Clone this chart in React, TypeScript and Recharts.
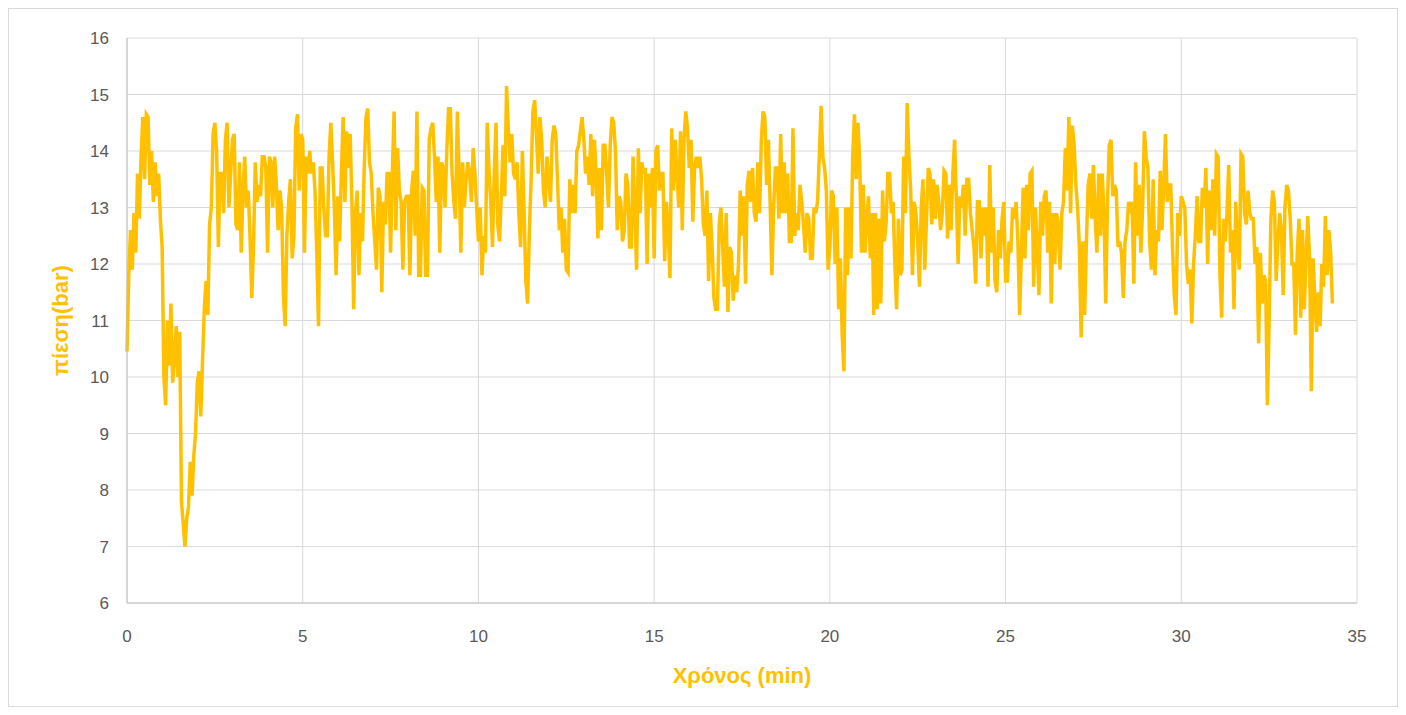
import {
  LineChart,
  Line,
  XAxis,
  YAxis,
  CartesianGrid,
  Label,
} from "recharts";

// pressure readings (bar), one every 0.05 min, in 5-minute blocks
const STEP_MIN = 0.05;

const p00to05 = [
  10.45, 11.8, 12.6, 11.9, 12.9, 12.2, 13.6, 12.8, 13.9, 14.6,
  13.5, 14.65, 14.6, 13.4, 14.0, 13.1, 13.8, 13.2, 13.6, 12.8,
  12.3, 10.0, 9.5, 11.0, 10.2, 11.3, 9.9, 10.3, 10.9, 10.0,
  10.8, 7.8, 7.4, 7.0, 7.5, 7.7, 8.5, 7.9, 8.6, 9.0,
  9.9, 10.1, 9.3, 10.3, 11.2, 11.7, 11.1, 12.7, 13.0, 14.3,
  14.5, 14.0, 12.3, 13.6, 13.6, 12.9, 14.2, 14.5, 13.0, 13.6,
  14.2, 14.3, 12.7, 12.6, 13.8, 12.2, 13.3, 13.9, 13.0, 13.3,
  12.5, 11.4, 12.3, 13.8, 13.1, 13.4, 13.2, 13.9, 13.9, 13.7,
  12.2, 13.9, 13.8, 13.0, 13.9, 13.4, 12.6, 13.3, 13.0, 11.45,
  10.9, 12.5, 13.1, 13.5, 12.1, 12.5, 14.4, 14.65, 13.3, 14.3,
];

const p05to10 = [
  14.2, 12.2, 13.9, 13.6, 14.0, 13.6, 13.8, 13.3, 12.2, 10.9,
  13.7, 13.7, 13.0, 12.5, 12.5, 13.9, 14.5, 13.8, 13.0, 11.8,
  13.2, 12.4, 13.6, 14.6, 13.1, 14.35, 13.7, 14.3, 13.1, 11.2,
  12.9, 13.3, 11.8, 12.9, 12.4, 13.7, 14.6, 14.75, 13.8, 13.6,
  12.9, 12.4, 11.9, 13.35, 13.2, 11.5, 13.1, 12.7, 13.6, 13.6,
  12.2, 13.6, 14.7, 12.6, 14.05, 13.3, 13.1, 11.9, 13.1, 13.2,
  13.2, 11.8, 13.3, 13.65, 12.5, 14.7, 11.8, 11.8, 13.35, 13.3,
  11.8, 11.8, 14.2, 14.4, 14.5, 13.9, 13.1, 13.9, 12.2, 13.8,
  13.7, 13.0, 14.0, 14.75, 14.75, 13.6, 13.1, 12.8, 14.7, 13.6,
  12.2, 13.8, 13.0, 13.5, 13.8, 13.6, 13.1, 14.05, 13.6, 13.0,
];

const p10to15 = [
  12.4, 13.0, 11.8, 12.5, 12.2, 14.5, 13.7, 13.1, 12.3, 13.6,
  14.5, 12.7, 12.4, 13.2, 14.1, 13.2, 15.15, 14.4, 13.8, 14.3,
  13.6, 13.5, 13.8, 12.9, 12.3, 14.0, 12.9, 11.7, 11.3, 12.6,
  13.5, 14.7, 14.9, 14.3, 13.6, 14.6, 14.2, 13.3, 13.0, 13.9,
  13.5, 13.1, 14.2, 14.45, 14.3, 13.5, 12.6, 13.0, 12.2, 12.8,
  11.9, 11.85, 13.5, 12.9, 13.4, 12.9, 14.0, 14.1, 14.35, 14.6,
  14.2, 13.6, 13.9, 13.4, 14.3, 13.2, 14.2, 13.6, 12.45, 13.7,
  12.6, 14.1, 14.1, 13.6, 13.0, 14.1, 14.6, 14.5, 14.0, 12.6,
  13.2, 13.1, 12.4, 12.6, 13.6, 13.4, 12.3, 12.3, 13.9, 13.0,
  11.9, 14.05, 12.9, 13.8, 13.6, 13.7, 12.0, 13.6, 13.0, 13.7,
];

const p15to20 = [
  12.1, 14.0, 14.1, 13.3, 13.6, 13.6, 12.05, 13.1, 12.6, 11.75,
  14.4, 13.3, 14.2, 13.6, 13.0, 14.35, 12.6, 14.2, 14.7, 14.4,
  13.7, 14.2, 12.75, 13.7, 13.9, 13.7, 13.9, 13.5, 12.7, 12.5,
  13.3, 11.7, 12.9, 12.3, 11.4, 11.2, 11.2, 12.7, 13.0, 12.3,
  11.6, 12.9, 11.15, 12.3, 12.2, 11.35, 11.8, 11.5, 12.0, 13.3,
  12.5, 13.2, 11.65, 13.4, 13.65, 13.1, 13.7, 12.9, 12.75, 13.8,
  12.9, 14.2, 14.7, 14.6, 13.4, 14.2, 13.1, 11.8, 13.0, 13.7,
  13.7, 12.8, 14.3, 12.9, 13.8, 12.9, 13.6, 12.4, 12.4, 14.4,
  12.5, 12.9, 12.6, 13.4, 13.1, 12.7, 12.2, 12.9, 12.8, 12.1,
  12.1, 13.0, 12.9, 13.1, 13.9, 14.8, 13.9, 13.7, 13.3, 11.9,
];

const p20to25 = [
  12.3, 13.3, 13.2, 12.0, 13.0, 11.2, 12.1, 10.75, 10.1, 13.0,
  11.8, 13.0, 12.1, 13.9, 14.65, 13.5, 14.5, 13.8, 12.2, 13.4,
  12.2, 12.8, 13.2, 12.1, 12.9, 11.1, 12.9, 11.2, 12.8, 11.3,
  13.3, 12.4, 12.7, 13.6, 13.6, 12.9, 13.1, 12.0, 11.2, 12.8,
  11.8, 11.9, 13.9, 12.9, 14.85, 13.9, 13.3, 11.8, 13.1, 12.9,
  12.4, 11.6, 13.0, 13.5, 11.9, 12.8, 13.7, 13.6, 12.7, 13.5,
  12.8, 13.4, 13.1, 12.6, 12.9, 13.65, 13.6, 12.45, 13.4, 12.6,
  13.6, 14.2, 13.1, 12.0, 13.2, 13.0, 13.4, 12.5, 13.5, 13.5,
  12.9, 12.6, 12.3, 11.65, 13.1, 13.1, 12.1, 13.0, 12.5, 13.0,
  11.6, 13.75, 12.2, 13.0, 11.7, 11.5, 12.6, 12.1, 12.8, 13.1,
];

const p25to30 = [
  11.7, 11.7, 12.4, 12.2, 13.0, 12.8, 13.1, 12.4, 11.1, 12.2,
  13.35, 12.1, 13.4, 12.6, 13.6, 13.65, 11.6, 13.0, 12.3, 11.45,
  13.1, 12.5, 13.2, 13.3, 12.2, 13.1, 11.3, 12.9, 12.0, 12.9,
  12.7, 11.9, 12.9, 13.1, 14.05, 13.3, 14.6, 12.9, 14.45, 14.1,
  13.4, 13.0, 12.3, 10.7, 12.4, 11.1, 12.4, 13.4, 13.6, 12.8,
  13.75, 12.8, 12.2, 13.6, 12.5, 13.6, 12.9, 11.3, 13.1, 14.1,
  14.2, 13.2, 13.4, 13.3, 12.3, 12.4, 12.2, 11.4, 12.4, 12.6,
  13.1, 12.9, 13.1, 11.65, 13.8, 12.5, 13.4, 12.2, 13.0, 14.35,
  13.9, 13.7, 12.4, 11.9, 13.5, 11.8, 12.6, 12.4, 13.65, 12.6,
  13.4, 14.3, 13.1, 13.4, 13.4, 12.3, 11.45, 11.1, 12.9, 12.5,
];

const p30to35 = [
  13.2, 13.1, 13.0, 12.0, 11.65, 11.9, 10.95, 12.0, 12.5, 13.2,
  12.4, 12.4, 13.35, 13.0, 13.7, 12.0, 13.3, 12.6, 13.5, 12.5,
  13.95, 13.9, 11.8, 11.05, 12.8, 12.4, 12.9, 13.75, 12.2, 12.6,
  11.2, 13.1, 12.3, 11.9, 13.95, 13.9, 12.9, 12.7, 13.3, 12.9,
  12.8, 12.8, 12.0, 12.3, 10.6, 12.2, 11.3, 11.8, 11.7, 9.5,
  11.0, 12.8, 13.3, 13.1, 11.7, 12.4, 12.9, 12.6, 11.45, 13.0,
  13.4, 13.3, 12.8, 12.0, 12.0, 10.75, 12.2, 12.8, 11.05, 12.6,
  11.2, 12.1, 12.85, 12.1, 9.75, 12.1, 11.4, 10.8, 11.5, 10.9,
  12.0, 11.6, 12.85, 11.8, 12.6, 12.2, 11.3,
];

const xTicks = [0, 5, 10, 15, 20, 25, 30, 35];
const yTicks = [6, 7, 8, 9, 10, 11, 12, 13, 14, 15, 16];

const pressure = [
  ...p00to05,
  ...p05to10,
  ...p10to15,
  ...p15to20,
  ...p20to25,
  ...p25to30,
  ...p30to35,
];

const data = pressure.map((p, i) => ({
  t: Number((i * STEP_MIN).toFixed(2)),
  p,
}));

const GOLD = "#FFC000";
const FONT = "'Liberation Sans', Arial, sans-serif";

function YTitle({ viewBox }: any) {
  const cx = viewBox.x + 51;
  const cy = viewBox.y + viewBox.height / 2;
  return (
    <text
      x={cx}
      y={cy}
      transform={`rotate(-90 ${cx} ${cy})`}
      textAnchor="middle"
      dominantBaseline="central"
      fill={GOLD}
      fontFamily={FONT}
      fontWeight="bold"
      fontSize={22}
    >
      πίεση(bar)
    </text>
  );
}

function XTitle({ viewBox }: any) {
  const cx = viewBox.x + viewBox.width / 2;
  const cy = viewBox.y + 72;
  return (
    <text
      x={cx}
      y={cy}
      textAnchor="middle"
      dominantBaseline="central"
      fill={GOLD}
      fontFamily={FONT}
      fontWeight="bold"
      fontSize={22}
    >
      Χρόνος (min)
    </text>
  );
}

export default function App() {
  const tickStyle = { fill: "#595959", fontSize: 17, fontFamily: FONT };

  return (
    <div
      style={{
        width: 1388,
        height: 697,
        border: "1px solid #D9D9D9",
        background: "#fff",
      }}
    >
      <LineChart
        width={1388}
        height={697}
        data={data}
        margin={{ top: 29, right: 40, bottom: 18, left: 0 }}
      >
        <CartesianGrid stroke="#D9D9D9" strokeWidth={1} />
        <XAxis
          type="number"
          dataKey="t"
          domain={[0, 35]}
          ticks={xTicks}
          interval={0}
          height={85}
          tickSize={0}
          tickMargin={27}
          tick={tickStyle}
          axisLine={{ stroke: "#BFBFBF" }}
          tickLine={false}
        >
          <Label content={<XTitle />} />
        </XAxis>
        <YAxis
          type="number"
          domain={[6, 16]}
          ticks={yTicks}
          interval={0}
          width={118}
          tickSize={0}
          tickMargin={18}
          tick={tickStyle}
          axisLine={{ stroke: "#BFBFBF" }}
          tickLine={false}
        >
          <Label content={<YTitle />} />
        </YAxis>
        <Line
          type="linear"
          dataKey="p"
          stroke={GOLD}
          strokeWidth={3.5}
          dot={false}
          isAnimationActive={false}
        />
      </LineChart>
    </div>
  );
}
